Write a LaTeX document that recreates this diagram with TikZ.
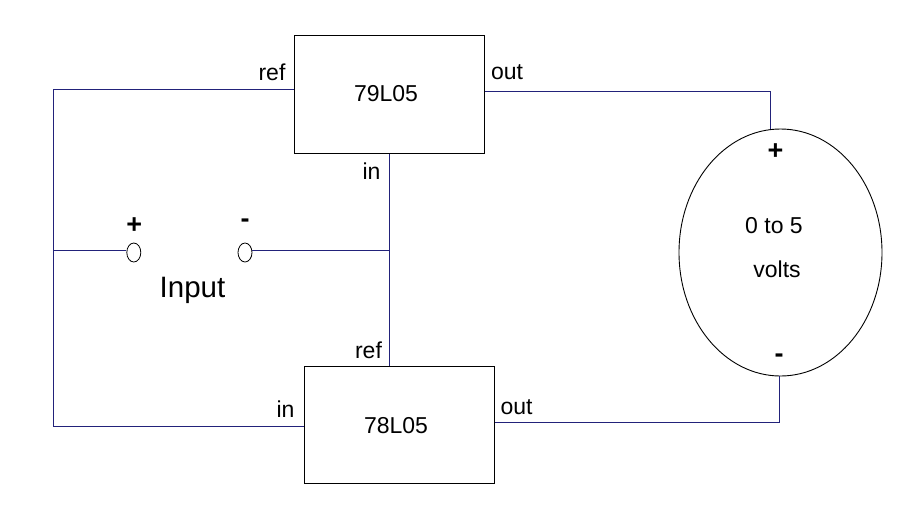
\documentclass[tikz,border=0pt]{standalone}
\usepackage{fontspec}
\setmainfont{Liberation Sans}
\usetikzlibrary{shapes.geometric}
\definecolor{wire}{HTML}{22227A}
\tikzset{
  chip/.style={draw=black, line width=1pt, minimum width=#1, inner sep=0pt},
  wirel/.style={draw=wire, line width=1pt},
  lbl/.style={inner sep=0pt, font=\fontsize{23}{27}\selectfont},
  sign/.style={inner sep=0pt, font=\bfseries\fontsize{27}{31}\selectfont},
  term/.style={draw=black, line width=0.8pt, ellipse, minimum width=14pt, minimum height=19pt, inner sep=0pt},
}
\begin{document}
\begin{tikzpicture}[x=1pt,y=-1pt]
\useasboundingbox (0,0) rectangle (909,520);
% regulators
\node[chip=190pt, minimum height=118pt] (u1) at (389,94) {};
\node[lbl] (u1t) at (386,94) {79L05};
\node[chip=190pt, minimum height=117pt] (u2) at (399.3,424.8) {};
\node[lbl] (u2t) at (396,425.5) {78L05};
% meter
\node[draw=black, line width=0.9pt, ellipse, minimum width=203pt, minimum height=247pt, inner sep=0pt] (m) at (780.5,252.5) {};
\node[lbl] (m1) at (774,226) {0 to 5};
\node[lbl] (m2) at (777,269.5) {volts};
\node[sign] (mp) at (775.5,152) {+};
\node[sign] (mm) at (779,358) {-};
% input terminals
\node[term] (tp) at (133.8,252.5) {};
\node[term] (tm) at (245,252.5) {};
\node[sign] (tpl) at (134.3,225.5) {+};
\node[sign] (tml) at (245,223) {-};
\node[inner sep=0pt, font=\fontsize{29.5}{34}\selectfont] (inp) at (192.5,290) {Input};
% pin labels
\node[lbl] (l1) at (272,72) {ref};
\node[lbl] (l2) at (507,72) {out};
\node[lbl] (l3) at (371.5,171) {in};
\node[lbl] (l4) at (368.5,350) {ref};
\node[lbl] (l5) at (285.5,409) {in};
\node[lbl] (l6) at (516.5,407.5) {out};
% corner coordinates
\coordinate (c1) at (53.3,89.3);
\coordinate (c2) at (53.3,426.3);
\coordinate (c3) at (53.3,250.7);
\coordinate (c4) at (389,250.7);
\coordinate (c5) at (770.3,91);
\coordinate (c6) at (779.3,422.3);
% wires
\draw[wirel] (u1.west |- c1) -- (c1) -- (c2) -- (u2.west |- c2);
\draw[wirel] (c3) -- (tp.west |- c3);
\draw[wirel] (tm.east |- c4) -- (c4);
\draw[wirel] (u1.south -| c4) -- (u2.north -| c4);
\draw[wirel] (u1.east |- c5) -- (c5) -- (m.north -| c5);
\draw[wirel] (u2.east |- c6) -- (c6) -- (m.south -| c6);
\end{tikzpicture}
\end{document}
